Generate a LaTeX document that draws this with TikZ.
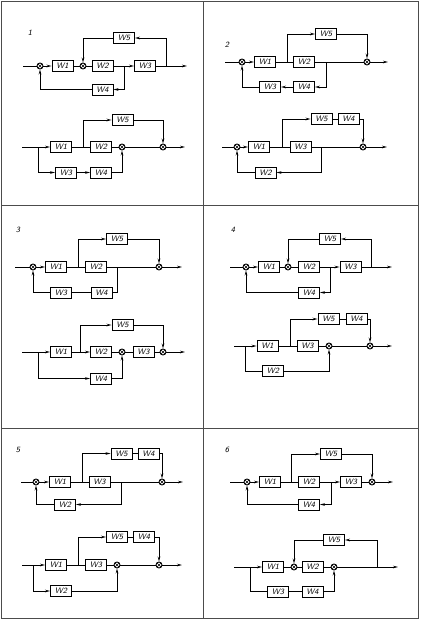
\documentclass[tikz,border=0pt]{standalone}
\usepackage{tikz}
\usetikzlibrary{arrows.meta}

\begin{document}
\begin{tikzpicture}[x=1pt, y=-1pt, line width=0.9pt, >={Stealth[length=5pt,width=2.6pt]},
    blk/.style = {draw, minimum width = 21pt, minimum height = 11pt, inner sep = 0pt, font=\sffamily\itshape\fontsize{8}{9}\selectfont},
    sum/.style = {circle, draw, minimum size = 6pt, inner sep = 0pt,
        path picture={\draw[line width=0.6pt] (path picture bounding box.north west) -- (path picture bounding box.south east)
            (path picture bounding box.south west) -- (path picture bounding box.north east);}},
    num/.style = {font=\sffamily\itshape\fontsize{8}{9}\selectfont}]
    \useasboundingbox (0,0) rectangle (421,621);

    %Frame
    \draw[black!70, line width=0.7pt] (1,1) rectangle (418,618);
    \draw[black!70, line width=0.7pt] (203.5,1) -- (203.5,618);
    \draw[black!70, line width=0.7pt] (1,205) -- (418,205);
    \draw[black!70, line width=0.7pt] (1,428) -- (418,428);

    %Panel 1, top
    \node at (30,33) [num] (n1) {1};
    \coordinate (t1in) at (23,66);
    \node at (40,66) [sum] (t1s1) {};
    \node at (62.5,66) [blk] (t1w1) {W1};
    \node at (83,66) [sum] (t1s2) {};
    \node at (102.5,66) [blk] (t1w2) {W2};
    \coordinate (t1p1) at (124,66);
    \node at (145,66) [blk] (t1w3) {W3};
    \coordinate (t1p2) at (166,66);
    \coordinate (t1out) at (187,66);
    \node at (124,38) [blk] (t1w5) {W5};
    \node at (102.5,89.5) [blk] (t1w4) {W4};

    \draw (t1in) -- (t1s1);
    \draw[->] (t1s1) -- (t1w1);
    \draw (t1w1) -- (t1s2);
    \draw (t1s2) -- (t1w2);
    \draw (t1w2) -- (t1p1);
    \draw[->] (t1p1) -- (t1w3);
    \draw (t1w3) -- (t1p2);
    \draw[->] (t1p2) -- (t1out);
    \draw[->] (t1p2) |- (t1w5);
    \draw[->] (t1w5) -| (t1s2);
    \draw[->] (t1p1) |- (t1w4);
    \draw[->] (t1w4) -| (t1s1);

    %Panel 1, bottom
    \coordinate (b1in) at (22,147);
    \coordinate (b1p1) at (38,147);
    \node at (61,147) [blk] (b1w1) {W1};
    \coordinate (b1p2) at (83,147);
    \node at (101,147) [blk] (b1w2) {W2};
    \node at (122,147) [sum] (b1s1) {};
    \node at (163,147) [sum] (b1s2) {};
    \coordinate (b1out) at (185,147);
    \node at (122.5,120) [blk] (b1w5) {W5};
    \node at (66,172.5) [blk] (b1w3) {W3};
    \node at (101,172.5) [blk] (b1w4) {W4};

    \draw (b1in) -- (b1p1);
    \draw[->] (b1p1) -- (b1w1);
    \draw (b1w1) -- (b1w2);
    \draw (b1w2) -- (b1s1);
    \draw (b1s1) -- (b1s2);
    \draw[->] (b1s2) -- (b1out);
    \draw[->] (b1p2) |- (b1w5);
    \draw[->] (b1w5) -| (b1s2);
    \draw[->] (b1p1) |- (b1w3);
    \draw[->] (b1w3) -- (b1w4);
    \draw[->] (b1w4) -| (b1s1);

    %Panel 2, top
    \node at (227,45) [num] (n2) {2};
    \coordinate (t2in) at (225,62);
    \node at (242,62) [sum] (t2s1) {};
    \node at (265,62) [blk] (t2w1) {W1};
    \coordinate (t2p1) at (287,62);
    \node at (304,62) [blk] (t2w2) {W2};
    \coordinate (t2p2) at (326,62);
    \node at (367,62) [sum] (t2s2) {};
    \coordinate (t2out) at (388,62);
    \node at (326,34) [blk] (t2w5) {W5};
    \node at (304,87) [blk] (t2w4) {W4};
    \node at (270,87) [blk] (t2w3) {W3};

    \draw (t2in) -- (t2s1);
    \draw[->] (t2s1) -- (t2w1);
    \draw (t2w1) -- (t2w2);
    \draw (t2w2) -- (t2s2);
    \draw[->] (t2s2) -- (t2out);
    \draw[->] (t2p1) |- (t2w5);
    \draw[->] (t2w5) -| (t2s2);
    \draw[->] (t2p2) |- (t2w4);
    \draw[->] (t2w4) -- (t2w3);
    \draw[->] (t2w3) -| (t2s1);

    %Panel 2, bottom
    \coordinate (b2in) at (222,147);
    \node at (237,147) [sum] (b2s1) {};
    \node at (259,147) [blk] (b2w1) {W1};
    \coordinate (b2p1) at (282,147);
    \node at (300.5,147) [blk] (b2w3) {W3};
    \coordinate (b2p2) at (321,147);
    \node at (363,147) [sum] (b2s2) {};
    \coordinate (b2out) at (387,147);
    \node at (321.5,119) [blk] (b2w5) {W5};
    \node at (348.5,119) [blk] (b2w4) {W4};
    \node at (265.5,172.5) [blk] (b2w2) {W2};

    \draw (b2in) -- (b2s1);
    \draw[->] (b2s1) -- (b2w1);
    \draw (b2w1) -- (b2w3);
    \draw (b2w3) -- (b2s2);
    \draw[->] (b2s2) -- (b2out);
    \draw[->] (b2p1) |- (b2w5);
    \draw (b2w5) -- (b2w4);
    \draw[->] (b2w4) -| (b2s2);
    \draw[->] (b2p2) |- (b2w2);
    \draw[->] (b2w2) -| (b2s1);

    %Panel 3, top
    \node at (18,230) [num] (n3) {3};
    \coordinate (t3in) at (15,267);
    \node at (33,267) [sum] (t3s1) {};
    \node at (56,267) [blk] (t3w1) {W1};
    \coordinate (t3p1) at (78,267);
    \node at (96,267) [blk] (t3w2) {W2};
    \coordinate (t3p2) at (117,267);
    \node at (159,267) [sum] (t3s2) {};
    \coordinate (t3out) at (182,267);
    \node at (117,239) [blk] (t3w5) {W5};
    \node at (101.5,292.5) [blk] (t3w4) {W4};
    \node at (61,292.5) [blk] (t3w3) {W3};

    \draw (t3in) -- (t3s1);
    \draw[->] (t3s1) -- (t3w1);
    \draw (t3w1) -- (t3w2);
    \draw (t3w2) -- (t3s2);
    \draw[->] (t3s2) -- (t3out);
    \draw[->] (t3p1) |- (t3w5);
    \draw[->] (t3w5) -| (t3s2);
    \draw (t3p2) |- (t3w4);
    \draw (t3w4) -- (t3w3);
    \draw[->] (t3w3) -| (t3s1);

    %Panel 3, bottom
    \coordinate (b3in) at (22,352);
    \coordinate (b3p1) at (38,352);
    \node at (61,352) [blk] (b3w1) {W1};
    \coordinate (b3p2) at (80,352);
    \node at (101,352) [blk] (b3w2) {W2};
    \node at (122,352) [sum] (b3s1) {};
    \node at (143.5,352) [blk] (b3w3) {W3};
    \node at (163,352) [sum] (b3s2) {};
    \coordinate (b3out) at (185,352);
    \node at (122.5,325) [blk] (b3w5) {W5};
    \node at (101,378.5) [blk] (b3w4) {W4};

    \draw (b3in) -- (b3p1);
    \draw[->] (b3p1) -- (b3w1);
    \draw (b3w1) -- (b3p2);
    \draw[->] (b3p2) -- (b3w2);
    \draw (b3w2) -- (b3s1);
    \draw (b3s1) -- (b3w3);
    \draw (b3w3) -- (b3s2);
    \draw[->] (b3s2) -- (b3out);
    \draw[->] (b3p2) |- (b3w5);
    \draw[->] (b3w5) -| (b3s2);
    \draw[->] (b3p1) |- (b3w4);
    \draw[->] (b3w4) -| (b3s1);

    %Panel 4, top
    \node at (233,230) [num] (n4) {4};
    \coordinate (t4in) at (230,267);
    \node at (246,267) [sum] (t4s1) {};
    \node at (269,267) [blk] (t4w1) {W1};
    \node at (288,267) [sum] (t4s2) {};
    \node at (309,267) [blk] (t4w2) {W2};
    \coordinate (t4p1) at (330,267);
    \node at (350.5,267) [blk] (t4w3) {W3};
    \coordinate (t4p2) at (371,267);
    \coordinate (t4out) at (392,267);
    \node at (330,239) [blk] (t4w5) {W5};
    \node at (309,292.5) [blk] (t4w4) {W4};

    \draw (t4in) -- (t4s1);
    \draw[->] (t4s1) -- (t4w1);
    \draw (t4w1) -- (t4s2);
    \draw (t4s2) -- (t4w2);
    \draw (t4w2) -- (t4p1);
    \draw[->] (t4p1) -- (t4w3);
    \draw (t4w3) -- (t4p2);
    \draw[->] (t4p2) -- (t4out);
    \draw[->] (t4p2) |- (t4w5);
    \draw[->] (t4w5) -| (t4s2);
    \draw[->] (t4p1) |- (t4w4);
    \draw[->] (t4w4) -| (t4s1);

    %Panel 4, bottom
    \coordinate (b4in) at (234,346);
    \coordinate (b4p1) at (245,346);
    \node at (267.5,346) [blk] (b4w1) {W1};
    \coordinate (b4p2) at (290,346);
    \node at (307.5,346) [blk] (b4w3) {W3};
    \node at (329,346) [sum] (b4s1) {};
    \node at (370,346) [sum] (b4s2) {};
    \coordinate (b4out) at (392,346);
    \node at (328.5,319) [blk] (b4w5) {W5};
    \node at (356.5,319) [blk] (b4w4) {W4};
    \node at (273,371) [blk] (b4w2) {W2};

    \draw (b4in) -- (b4p1);
    \draw[->] (b4p1) -- (b4w1);
    \draw (b4w1) -- (b4w3);
    \draw (b4w3) -- (b4s1);
    \draw (b4s1) -- (b4s2);
    \draw[->] (b4s2) -- (b4out);
    \draw[->] (b4p2) |- (b4w5);
    \draw (b4w5) -- (b4w4);
    \draw[->] (b4w4) -| (b4s2);
    \draw (b4p1) |- (b4w2);
    \draw[->] (b4w2) -| (b4s1);

    %Panel 5, top
    \node at (18,450) [num] (n5) {5};
    \coordinate (t5in) at (21,482);
    \node at (36,482) [sum] (t5s1) {};
    \node at (60,482) [blk] (t5w1) {W1};
    \coordinate (t5p1) at (82,482);
    \node at (99.5,482) [blk] (t5w3) {W3};
    \coordinate (t5p2) at (121,482);
    \node at (162,482) [sum] (t5s2) {};
    \coordinate (t5out) at (183,482);
    \node at (121.5,453.5) [blk] (t5w5) {W5};
    \node at (148.5,453.5) [blk] (t5w4) {W4};
    \node at (65,504.5) [blk] (t5w2) {W2};

    \draw (t5in) -- (t5s1);
    \draw[->] (t5s1) -- (t5w1);
    \draw (t5w1) -- (t5w3);
    \draw (t5w3) -- (t5s2);
    \draw[->] (t5s2) -- (t5out);
    \draw[->] (t5p1) |- (t5w5);
    \draw (t5w5) -- (t5w4);
    \draw[->] (t5w4) -| (t5s2);
    \draw[->] (t5p2) |- (t5w2);
    \draw[->] (t5w2) -| (t5s1);

    %Panel 5, bottom
    \coordinate (b5in) at (22,565);
    \coordinate (b5p1) at (33,565);
    \node at (56,565) [blk] (b5w1) {W1};
    \coordinate (b5p2) at (78,565);
    \node at (96,565) [blk] (b5w3) {W3};
    \node at (117,565) [sum] (b5s1) {};
    \node at (159,565) [sum] (b5s2) {};
    \coordinate (b5out) at (182,565);
    \node at (117,537) [blk] (b5w5) {W5};
    \node at (144,537) [blk] (b5w4) {W4};
    \node at (61,591) [blk] (b5w2) {W2};

    \draw (b5in) -- (b5p1);
    \draw[->] (b5p1) -- (b5w1);
    \draw (b5w1) -- (b5w3);
    \draw (b5w3) -- (b5s1);
    \draw (b5s1) -- (b5s2);
    \draw[->] (b5s2) -- (b5out);
    \draw[->] (b5p2) |- (b5w5);
    \draw (b5w5) -- (b5w4);
    \draw[->] (b5w4) -| (b5s2);
    \draw[->] (b5p1) |- (b5w2);
    \draw[->] (b5w2) -| (b5s1);

    %Panel 6, top
    \node at (227,450) [num] (n6) {6};
    \coordinate (t6in) at (230,482);
    \node at (247,482) [sum] (t6s1) {};
    \node at (270,482) [blk] (t6w1) {W1};
    \coordinate (t6p1) at (291,482);
    \node at (309,482) [blk] (t6w2) {W2};
    \coordinate (t6p2) at (331,482);
    \node at (351,482) [blk] (t6w3) {W3};
    \node at (372,482) [sum] (t6s2) {};
    \coordinate (t6out) at (393,482);
    \node at (331,454) [blk] (t6w5) {W5};
    \node at (309,504.5) [blk] (t6w4) {W4};

    \draw (t6in) -- (t6s1);
    \draw[->] (t6s1) -- (t6w1);
    \draw (t6w1) -- (t6w2);
    \draw (t6w2) -- (t6p2);
    \draw[->] (t6p2) -- (t6w3);
    \draw (t6w3) -- (t6s2);
    \draw[->] (t6s2) -- (t6out);
    \draw[->] (t6p1) |- (t6w5);
    \draw[->] (t6w5) -| (t6s2);
    \draw[->] (t6p2) |- (t6w4);
    \draw[->] (t6w4) -| (t6s1);

    %Panel 6, bottom
    \coordinate (b6in) at (234,567);
    \coordinate (b6p1) at (250,567);
    \node at (273,567) [blk] (b6w1) {W1};
    \node at (294,567) [sum] (b6s1) {};
    \node at (312.5,567) [blk] (b6w2) {W2};
    \node at (334,567) [sum] (b6s2) {};
    \coordinate (b6p2) at (377,567);
    \coordinate (b6out) at (398,567);
    \node at (334,540) [blk] (b6w5) {W5};
    \node at (278,591.5) [blk] (b6w3) {W3};
    \node at (312.5,591.5) [blk] (b6w4) {W4};

    \draw (b6in) -- (b6p1);
    \draw[->] (b6p1) -- (b6w1);
    \draw (b6w1) -- (b6s1);
    \draw (b6s1) -- (b6w2);
    \draw (b6w2) -- (b6s2);
    \draw (b6s2) -- (b6p2);
    \draw[->] (b6p2) -- (b6out);
    \draw[->] (b6p2) |- (b6w5);
    \draw[->] (b6w5) -| (b6s1);
    \draw (b6p1) |- (b6w3);
    \draw (b6w3) -- (b6w4);
    \draw[->] (b6w4) -| (b6s2);
\end{tikzpicture}
\end{document}
